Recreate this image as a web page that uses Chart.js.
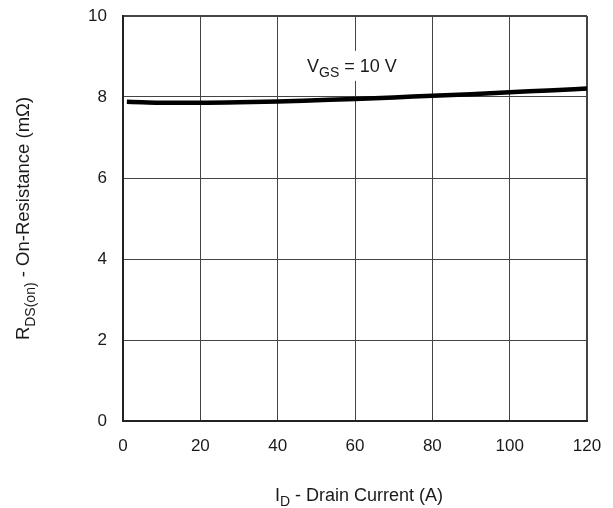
<!DOCTYPE html>
<html>
<head>
<meta charset="utf-8">
<script src="https://cdn.jsdelivr.net/npm/chart.js@4/dist/chart.umd.min.js"></script>
<style>
  html, body { margin: 0; padding: 0; background: #fff; }
  #wrap { width: 613px; height: 508px; }
</style>
</head>
<body>
<div id="wrap"><canvas id="c" width="613" height="508"></canvas></div>
<script>
// Drain current (A) and on-resistance (mΩ) at VGS = 10 V
const drainCurrent = [1, 5, 10, 20, 30, 40, 50, 60, 70, 80, 90, 100, 110, 120];
const onResistance = [7.88, 7.87, 7.86, 7.86, 7.87, 7.89, 7.92, 7.95, 7.99, 8.03, 8.07, 8.12, 8.16, 8.21];
const xTicks = [0, 20, 40, 60, 80, 100, 120];
const yTicks = [0, 2, 4, 6, 8, 10];
const curveLabel = { main: 'V', sub: 'GS', rest: ' = 10 V', x: 47.6, y: 8.62 };

const FONT = 'Liberation Sans, Arial, sans-serif';

// draws "main" with a lowered, smaller "sub" then "rest"; returns [left, width]
function drawSubText(ctx, x, y, main, sub, rest, size, align, measureOnly) {
  const big = size + 'px ' + FONT;
  const small = Math.round(size * 0.78) + 'px ' + FONT;
  ctx.font = big; const w1 = ctx.measureText(main).width;
  const w3 = ctx.measureText(rest).width;
  ctx.font = small; const w2 = ctx.measureText(sub).width;
  const total = w1 + w2 + w3;
  const sx = align === 'center' ? x - total / 2 : x;
  if (!measureOnly) {
    ctx.textAlign = 'left';
    ctx.textBaseline = 'alphabetic';
    ctx.font = big; ctx.fillText(main, sx, y);
    ctx.font = small; ctx.fillText(sub, sx + w1, y + size * 0.3);
    ctx.font = big; ctx.fillText(rest, sx + w1 + w2, y);
  }
  return [sx, total];
}

const textPlugin = {
  id: 'axisText',
  afterDatasetsDraw(chart) {
    const ctx = chart.ctx;
    const xs = chart.scales.x, ys = chart.scales.y;
    const area = chart.chartArea;
    ctx.save();
    // curve label on a white patch
    const lx = xs.getPixelForValue(curveLabel.x), ly = ys.getPixelForValue(curveLabel.y);
    const [bx, bw] = drawSubText(ctx, lx, ly, curveLabel.main, curveLabel.sub, curveLabel.rest, 18, 'left', true);
    ctx.fillStyle = '#fff';
    ctx.fillRect(bx - 6, ly - 21, bw + 12, 30);
    ctx.fillStyle = '#1a1a1a';
    drawSubText(ctx, lx, ly, curveLabel.main, curveLabel.sub, curveLabel.rest, 18, 'left');
    // x axis title
    drawSubText(ctx, 359, 501, 'I', 'D', ' - Drain Current (A)', 18, 'center');
    // y axis title
    ctx.translate(29, (area.top + area.bottom) / 2);
    ctx.rotate(-Math.PI / 2);
    drawSubText(ctx, 0, 0, 'R', 'DS(on)', ' - On-Resistance (mΩ)', 18.5, 'center');
    ctx.restore();
  }
};

new Chart(document.getElementById('c'), {
  type: 'line',
  data: {
    datasets: [{
      data: drainCurrent.map((x, i) => ({ x, y: onResistance[i] })),
      borderColor: '#000',
      borderWidth: 4.5,
      pointRadius: 0,
      cubicInterpolationMode: 'monotone',
      fill: false
    }]
  },
  options: {
    responsive: false,
    animation: false,
    devicePixelRatio: 1,
    layout: { padding: { top: 16, right: 26, left: 0, bottom: 0 } },
    plugins: { legend: { display: false }, tooltip: { enabled: false } },
    scales: {
      x: {
        type: 'linear', min: 0, max: 120,
        afterBuildTicks: s => { s.ticks = xTicks.map(v => ({ value: v })); },
        afterFit: s => { s.height = 87; s.paddingLeft = 0; s.paddingRight = 0; },
        grid: {
          color: '#444',
          lineWidth: c => (c.index === xTicks.length - 1 ? 2 : 1),
          drawTicks: false
        },
        border: { display: true, color: '#222', width: 2 },
        ticks: { color: '#1a1a1a', font: { family: FONT, size: 17 }, padding: 15, maxRotation: 0 }
      },
      y: {
        type: 'linear', min: 0, max: 10,
        afterBuildTicks: s => { s.ticks = yTicks.map(v => ({ value: v })); },
        afterFit: s => { s.width = 123; s.paddingTop = 0; s.paddingBottom = 0; },
        grid: {
          color: '#444',
          lineWidth: c => (c.index === yTicks.length - 1 ? 2 : 1),
          drawTicks: false
        },
        border: { display: true, color: '#222', width: 2 },
        ticks: { color: '#1a1a1a', font: { family: FONT, size: 17 }, padding: 16 }
      }
    }
  },
  plugins: [textPlugin]
});
</script>
</body>
</html>
